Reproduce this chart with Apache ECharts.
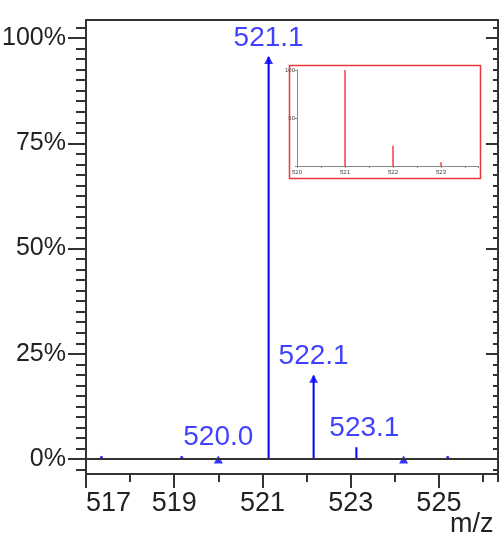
<!DOCTYPE html>
<html><head><meta charset="utf-8">
<script src="https://cdn.jsdelivr.net/npm/echarts@6.0.0/dist/echarts.min.js"></script>
<style>html,body{margin:0;padding:0;background:#fff}#c{width:501px;height:539px}</style>
</head><body><div id="c"></div>
<script>
// ---- main spectrum data (m/z, relative abundance %) ----
const lineMz   = [521.14, 522.16, 523.13];
const linePct  = [95.5, 19.8, 2.8];
const triMz    = [520.0, 521.14, 522.16, 524.2];
const triPct   = [0.6, 95.5, 19.8, 0.6];
const dotMz    = [517.35, 519.17, 525.2];
const dotPct   = [0.4, 0.4, 0.4];
const labelMz  = [520.0, 521.14, 522.16, 523.13];
const labelPct = [0.6, 95.5, 19.8, 2.8];
const labelText = ['520.0', '521.1', '522.1', '523.1'];

// ---- tick labels ----
const xTickLabels = [517, 519, 521, 523, 525];
const yTickLabels = [0, 25, 50, 75, 100];
const yMinorTicks = [-2.5, 0, 2.5, 5, 7.5, 10, 12.5, 15, 17.5, 20, 22.5, 25, 27.5, 30, 32.5, 35, 37.5, 40, 42.5, 45, 47.5,
  50, 52.5, 55, 57.5, 60, 62.5, 65, 67.5, 70, 72.5, 75, 77.5, 80, 82.5, 85, 87.5, 90, 92.5, 95, 97.5, 100, 102.5];

// ---- inset (theoretical pattern) ----
const insetMz  = [521.0, 522.0, 523.0];
const insetPct = [100, 21, 4];
const insetXLabels = [520, 521, 522, 523];
const insetYLabels = [50, 100];

const AX = '#333';
const BLUE = '#0000ff';
const BLUE_TXT = '#1010ff';
const FONT = "'Liberation Sans', Arial, sans-serif";
const X0 = 517, X1 = 526.34, Y0 = -3.56, Y1 = 104.3;
const pairs = (a, b) => a.map((v, i) => [v, b[i]]);
const lineSt = {color: AX, width: 2};

const chart = echarts.init(document.getElementById('c'));
chart.setOption({
  animation: false,
  backgroundColor: '#fff',
  grid: [
    {left: 86, right: 3, top: 20, bottom: 65, containLabel: false, outerBoundsMode: 'none'},
    {left: 297, top: 70, width: 181, height: 96, containLabel: false, outerBoundsMode: 'none'}
  ],
  xAxis: [
    {gridIndex: 0, type: 'value', min: X0, max: X1, interval: 1, position: 'bottom',
      axisLine: {show: true, onZero: false, lineStyle: lineSt},
      axisTick: {show: true, length: 8, lineStyle: lineSt},
      axisLabel: {show: false}, splitLine: {show: false}},
    {gridIndex: 0, type: 'value', min: X0, max: X1, interval: 2, position: 'bottom',
      axisLine: {show: false, onZero: false},
      axisTick: {show: true, length: 14, customValues: xTickLabels, lineStyle: lineSt},
      axisLabel: {show: true, customValues: xTickLabels, fontSize: 27, color: '#222', fontFamily: FONT,
        margin: 16, alignMinLabel: 'left'},
      splitLine: {show: false},
      name: 'm/z', nameLocation: 'end', nameGap: -48, nameMoveOverlap: false,
      nameTextStyle: {fontSize: 27, color: '#222', fontFamily: FONT, verticalAlign: 'top', padding: [37, 0, 0, 0]}},
    {gridIndex: 0, type: 'value', min: X0, max: X1, position: 'top',
      axisLine: {show: true, onZero: false, lineStyle: lineSt},
      axisTick: {show: false}, axisLabel: {show: false}, splitLine: {show: false}},
    {gridIndex: 1, type: 'value', min: 520, max: 523.77, interval: 0.5, position: 'bottom',
      axisLine: {show: true, onZero: false, lineStyle: {color: '#888', width: 1}},
      axisTick: {show: true, length: 2, lineStyle: {color: '#888', width: 1}},
      axisLabel: {show: true, customValues: insetXLabels, fontSize: 6, color: '#444', margin: 3, fontFamily: FONT},
      splitLine: {show: false}}
  ],
  yAxis: [
    {gridIndex: 0, type: 'value', min: Y0, max: Y1, position: 'left',
      axisLine: {show: true, onZero: false, lineStyle: lineSt},
      axisTick: {show: true, length: 18, customValues: yTickLabels, lineStyle: lineSt},
      axisLabel: {show: true, customValues: yTickLabels, formatter: '{value}%', fontSize: 25, color: '#222',
        fontFamily: FONT, margin: 20},
      splitLine: {show: false}},
    {gridIndex: 0, type: 'value', min: Y0, max: Y1, position: 'left',
      axisLine: {show: false, onZero: false},
      axisTick: {show: true, length: 10, customValues: yMinorTicks, lineStyle: lineSt},
      axisLabel: {show: false}, splitLine: {show: false}},
    {gridIndex: 0, type: 'value', min: Y0, max: Y1, position: 'right',
      axisLine: {show: true, onZero: false, lineStyle: lineSt},
      axisTick: {show: true, inside: true, length: 12, customValues: yTickLabels, lineStyle: lineSt},
      axisLabel: {show: false}, splitLine: {show: false}},
    {gridIndex: 0, type: 'value', min: Y0, max: Y1, position: 'right',
      axisLine: {show: false, onZero: false},
      axisTick: {show: true, inside: true, length: 5, customValues: yMinorTicks, lineStyle: lineSt},
      axisLabel: {show: false}, splitLine: {show: false}},
    {gridIndex: 1, type: 'value', min: 0, max: 100, interval: 50, position: 'left',
      axisLine: {show: true, onZero: false, lineStyle: {color: '#888', width: 1}},
      axisTick: {show: true, length: 2, lineStyle: {color: '#888', width: 1}},
      axisLabel: {show: true, customValues: insetYLabels, fontSize: 6, color: '#444', margin: 2, fontFamily: FONT},
      splitLine: {show: false}}
  ],
  graphic: [
    {type: 'rect', left: 287, top: 63, shape: {width: 191, height: 113},
      style: {fill: 'none', stroke: '#e8383d', lineWidth: 1.5}, z: 10}
  ],
  series: [
    {type: 'bar', xAxisIndex: 0, yAxisIndex: 0, data: pairs(lineMz, linePct), barWidth: 2,
      itemStyle: {color: BLUE}, z: 3,
      markLine: {silent: true, symbol: 'none', label: {show: false}, animation: false,
        lineStyle: {color: AX, width: 2, type: 'solid'}, data: [{yAxis: 0}]}},
    {type: 'scatter', xAxisIndex: 0, yAxisIndex: 0, data: pairs(triMz, triPct), symbol: 'triangle',
      symbolSize: [9, 8], symbolOffset: [0, 3], itemStyle: {color: BLUE}, z: 4},
    {type: 'scatter', xAxisIndex: 0, yAxisIndex: 0, data: pairs(dotMz, dotPct), symbol: 'circle',
      symbolSize: 3, itemStyle: {color: BLUE}, z: 4},
    {type: 'scatter', xAxisIndex: 0, yAxisIndex: 0, data: pairs(labelMz, labelPct), symbolSize: 0.1,
      itemStyle: {color: 'rgba(0,0,0,0)'}, z: 5,
      label: {show: true, position: 'top', distance: 5, fontSize: 28, color: BLUE_TXT, fontFamily: FONT,
        formatter: p => labelText[p.dataIndex]},
      labelLayout: p => (labelText[p.dataIndex] === '523.1' ? {dx: 8} : {})},
    {type: 'bar', xAxisIndex: 3, yAxisIndex: 4, data: pairs(insetMz, insetPct), barWidth: 1.5,
      itemStyle: {color: '#ff3b3b'}, z: 3}
  ]
});
</script></body></html>
